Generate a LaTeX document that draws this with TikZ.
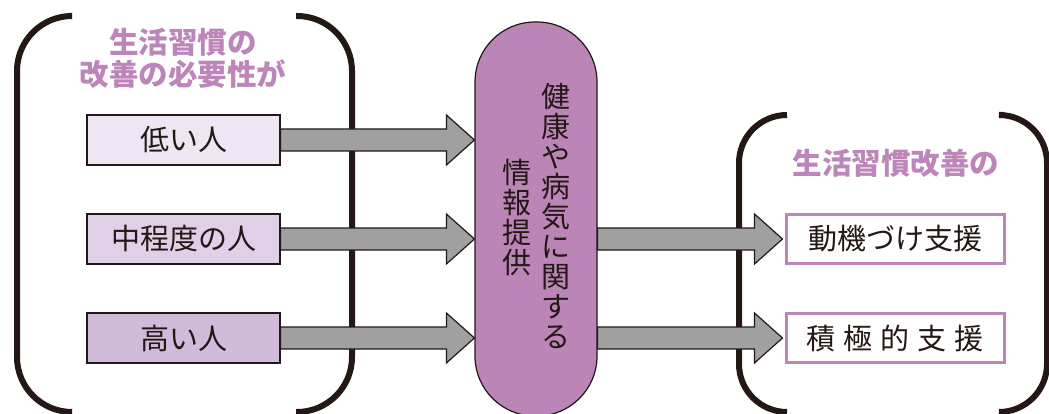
\documentclass[tikz,border=0pt]{standalone}
\usepackage{fontspec}
\setmainfont{Noto Sans CJK JP}
\usetikzlibrary{calc}
\definecolor{ink}{HTML}{231815}
\definecolor{lav}{HTML}{BC86BA}
\definecolor{pillc}{HTML}{BB86B7}
\definecolor{boxa}{HTML}{EEE6F2}
\definecolor{boxb}{HTML}{DED0E7}
\definecolor{boxc}{HTML}{D1BBDB}
\definecolor{arr}{HTML}{A0A0A0}
\tikzset{
  bracket/.style={draw=ink, line width=6pt, rounded corners=55pt},
  leftbox/.style={draw=ink, line width=1.2pt, minimum width=193pt, minimum height=50pt, inner sep=0pt, font=\fontsize{29}{30}\selectfont, text=ink},
  rightbox/.style={draw=lav, fill=white, line width=3pt, minimum width=218pt, minimum height=49pt, inner sep=0pt, font=\fontsize{29}{30}\selectfont, text=ink},
  titletext/.style={text=lav, font=\bfseries\fontsize{29.5}{31}\selectfont, align=center, inner sep=0pt},
  pill/.style={draw=ink, fill=pillc, line width=1.2pt, rounded corners=60pt, minimum width=122pt, minimum height=394pt, inner sep=0pt},
  vtext/.style={text=ink, align=center, inner sep=0pt},
  fatarrow/.style={draw=ink, fill=arr, line width=1.2pt, line join=miter}
}
\newcommand\fatarr[2]{%
  \draw[fatarrow] ($(#1)+(0,11)$) -- ($(#2)+(-28,11)$) -- ($(#2)+(-28,25)$) -- (#2)
    -- ($(#2)+(-28,-25)$) -- ($(#2)+(-28,-11)$) -- ($(#1)+(0,-11)$) -- cycle;}
\begin{document}
\begin{tikzpicture}[x=1pt, y=-1pt]
\useasboundingbox (0,0) rectangle (1049,414);
% brackets
\draw[bracket] (70,16) -- (17,16) -- (17,412) -- (70,412);
\draw[bracket] (296,16) -- (352,16) -- (352,412) -- (296,412);
\draw[bracket, rounded corners=48pt] (787,115) -- (739,115) -- (739,412) -- (787,412);
\draw[bracket, rounded corners=48pt] (1003,115) -- (1047,115) -- (1047,412) -- (1003,412);
% titles
\node[titletext] (lt) at (183,58) {生活習慣の\\[1pt]改善の必要性が};
\node[titletext] (rt) at (896,163) {生活習慣改善の};
% left boxes
\node[leftbox, fill=boxa] (b1) at (183.5,140) {低い人};
\node[leftbox, fill=boxb] (b2) at (183.5,239) {中程度の人};
\node[leftbox, fill=boxc] (b3) at (183.5,338) {高い人};
% pill
\node[pill] (p) at (536,219) {};
\node[vtext, font=\fontsize{29}{30}\selectfont] (t1) at (556,216) {健\\康\\や\\病\\気\\に\\関\\す\\る};
\node[vtext, font=\fontsize{29}{30}\selectfont] (t2) at (517,217) {情\\報\\提\\供};
% right boxes
\node[rightbox] (r1) at (895,239) {動機づけ支援};
\node[rightbox] (r2) at (895,338) {積\hspace{8pt}極\hspace{8pt}的\hspace{8pt}支\hspace{8pt}援};
% arrows
\coordinate (e1) at (p.west |- b1.east);
\coordinate (e2) at (p.west |- b2.east);
\coordinate (e3) at (p.west |- b3.east);
\fatarr{b1.east}{e1}
\fatarr{b2.east}{e2}
\fatarr{b3.east}{e3}
\coordinate (s4) at (p.east |- r1.west);
\coordinate (s5) at (p.east |- r2.west);
\coordinate (e4) at ($(r1.west)+(-2,0)$);
\coordinate (e5) at ($(r2.west)+(-2,0)$);
\fatarr{s4}{e4}
\fatarr{s5}{e5}
\end{tikzpicture}
\end{document}
